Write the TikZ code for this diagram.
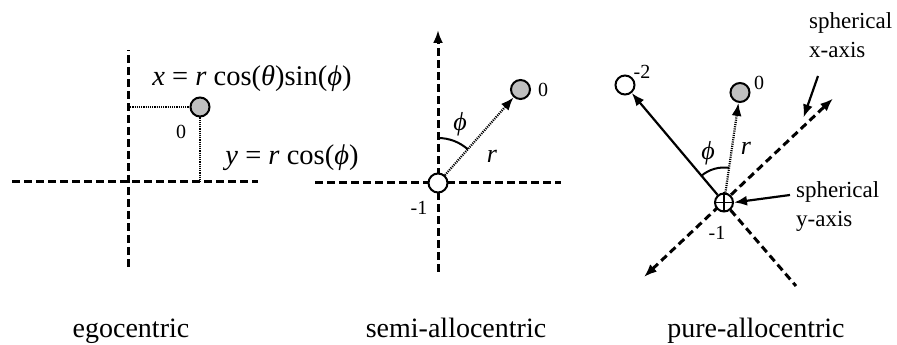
\documentclass[tikz,border=0pt]{standalone}
\usepackage{fontspec}
\setmainfont{Liberation Serif}
\usetikzlibrary{arrows.meta}

\begin{document}
\begin{tikzpicture}[x=1pt, y=1pt,
    axis/.style={line width=3pt, dash pattern=on 7.5pt off 4.5pt},
    dots/.style={line width=2.2pt, dash pattern=on 1.1pt off 1.1pt},
    ball/.style={circle, draw, line width=2pt, minimum size=19pt, inner sep=0pt},
    tip/.style={-{Latex[length=13pt, width=10pt]}},
    num/.style={font=\fontsize{20}{22}\selectfont, inner sep=0pt},
    var/.style={font=\fontsize{26}{28}\selectfont\itshape, inner sep=0pt},
    eq/.style={font=\fontsize{28.5}{32}\selectfont, inner sep=0pt},
    note/.style={font=\fontsize{23}{29}\selectfont, align=left, anchor=west, inner sep=0pt},
    title/.style={font=\fontsize{28}{32}\selectfont, anchor=base, inner sep=0pt}]

    % fix the page to the size of the picture
    \useasboundingbox (0,0) rectangle (897,345);

    % egocentric frame
    \coordinate (e-left) at (12,163);
    \coordinate (e-right) at (258,163);
    \coordinate (e-top) at (128,295);
    \coordinate (e-bottom) at (128,78);
    \draw[axis] (e-left) -- (e-right);
    \draw[axis] (e-bottom) -- (e-top);

    \node[ball, fill=gray!50] (e-obj) at (200,238) {};
    \coordinate (e-xfoot) at (128,238);
    \coordinate (e-yfoot) at (200,163);
    \draw[dots] (e-xfoot) -- (e-obj.west);
    \draw[dots] (e-obj.south) -- (e-yfoot);

    \node[num] (e-zero) at (181,213) {0};
    \node[eq] (e-xeq) at (252,266) {\textit{x} = \textit{r} cos(\textit{θ})sin(\textit{ϕ})};
    \node[eq] (e-yeq) at (292,187) {\textit{y} = \textit{r} cos(\textit{ϕ})};
    \node[title] (e-title) at (131,7) {egocentric};

    % semi-allocentric frame
    \coordinate (s-left) at (315,162);
    \coordinate (s-right) at (561,162);
    \coordinate (s-top) at (438,315);
    \coordinate (s-bottom) at (438,73);
    \draw[axis] (s-left) -- (s-right);
    \draw[axis, tip] (s-bottom) -- (s-top);

    \node[ball, fill=white] (s-origin) at (438,162) {};
    \node[ball, fill=gray!50] (s-obj) at (520.5,255.5) {};
    \draw[dots, tip] (s-origin) -- (s-obj);
    \draw[line width=2pt] (s-origin) ++(90:45) arc[start angle=90, end angle=48.6, radius=45];

    \node[num] (s-zero) at (543,255) {0};
    \node[num] (s-one) at (419,137) {-1};
    \node[var] (s-phi) at (460,221) {ϕ};
    \node[var] (s-r) at (492,189) {r};
    \node[title] (s-title) at (456,7) {semi-allocentric};

    % pure-allocentric frame
    \coordinate (p-xa) at (644,68);
    \coordinate (p-xb) at (833,246.5);
    \coordinate (p-yend) at (796,59);
    \draw[axis, {Latex[length=13pt, width=10pt]}-{Latex[length=13pt, width=10pt]}] (p-xa) -- (p-xb);

    \node[ball, fill=white, minimum size=18pt] (p-origin) at (724,142.5) {};
    \draw[line width=1.8pt] (p-origin.north) -- (p-origin.south) (p-origin.west) -- (p-origin.east);
    \draw[axis] (p-origin) -- (p-yend);

    \node[ball, fill=white] (p-prev) at (625,260) {};
    \node[ball, fill=gray!50] (p-obj) at (740,252.5) {};
    \draw[line width=2.2pt, tip] (p-origin) -- (p-prev);
    \draw[dots, tip] (p-origin) -- (p-obj);
    \draw[line width=2pt] (p-origin) ++(130.1:35) arc[start angle=130.1, end angle=81.7, radius=35];

    \node[num] (p-two) at (642,273) {-2};
    \node[num] (p-zero) at (759,262) {0};
    \node[num] (p-one) at (717,112) {-1};
    \node[var] (p-phi) at (708,192) {ϕ};
    \node[var] (p-r) at (746,197) {r};

    % axis notes
    \node[note] (p-xnote) at (809,310) {spherical\\x-axis};
    \coordinate (p-xtail) at (818,269);
    \coordinate (p-xhead) at (803.5,227.5);
    \draw[line width=2.2pt, tip] (p-xtail) -- (p-xhead);

    \node[note] (p-ynote) at (796,138.5) {spherical\\y-axis};
    \coordinate (p-ytail) at (790,150);
    \draw[line width=2.2pt, tip] (p-ytail) -- (p-origin.east);

    \node[title] (p-title) at (756,7) {pure-allocentric};
\end{tikzpicture}
\end{document}
